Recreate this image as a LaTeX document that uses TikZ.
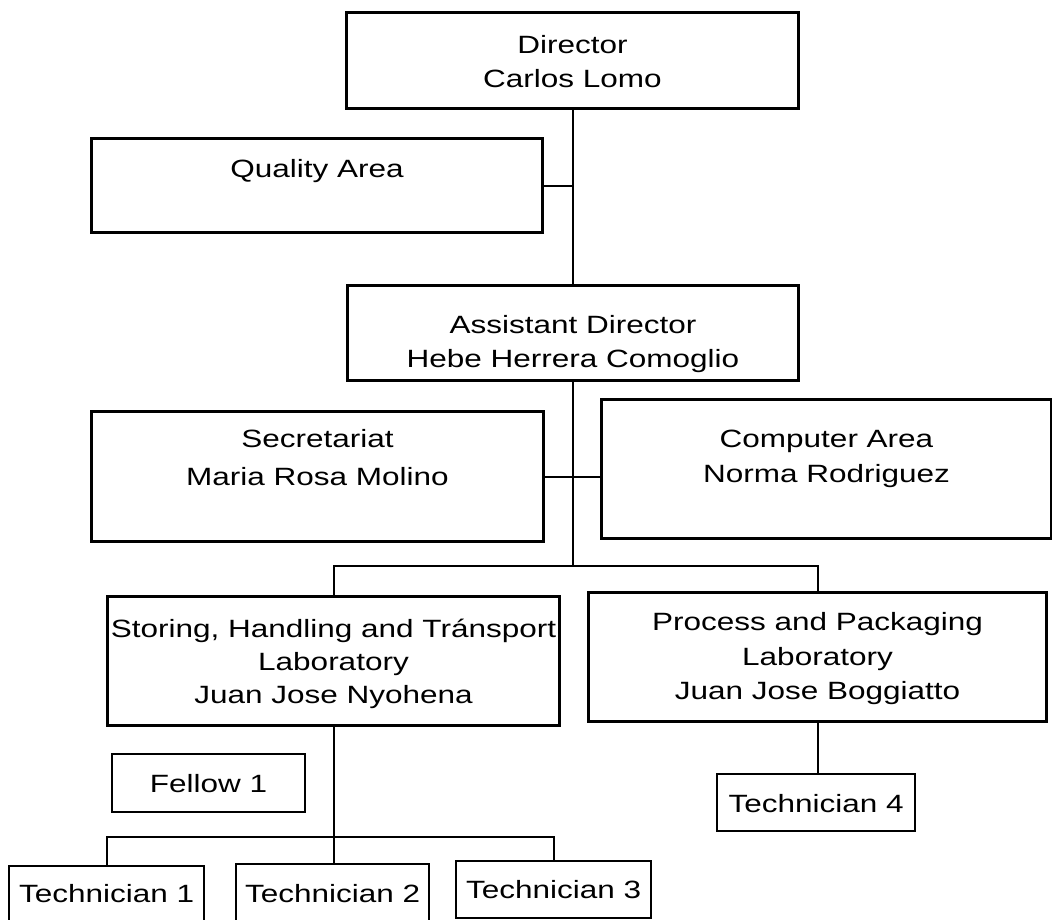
\documentclass[tikz,border=0pt]{standalone}
\usepackage{fontspec}
\setmainfont{Liberation Sans}[FakeStretch=1.26]
\tikzset{
  x=1pt, y=1pt,
  box/.style={draw, line width=3pt, inner sep=0pt, anchor=north west, align=center,
    font=\fontsize{25}{34}\selectfont},
  smallbox/.style={box, line width=2.2pt},
  conn/.style={line width=2pt},
}
\begin{document}
\begin{tikzpicture}
\useasboundingbox (0,0) rectangle (1052,-919);
% boxes
\node[box, minimum width=452pt, text height=75pt, text depth=21pt] (dir) at (345,-11) {Director\\Carlos Lomo};
\node[box, minimum width=451pt, text height=39pt, text depth=55pt] (qa) at (90,-137) {Quality Area};
\node[box, minimum width=451pt, text height=82pt, text depth=13pt] (ad) at (346,-284) {Assistant Director\\Hebe Herrera Comoglio};
\node[box, minimum width=452pt, text height=74pt, text depth=56pt, font=\fontsize{25}{38}\selectfont] (sec) at (90,-410) {Secretariat\\Maria Rosa Molino};
\node[box, minimum width=450pt, text height=83pt, text depth=56pt, font=\fontsize{25}{35}\selectfont] (comp) at (600,-398) {Computer Area\\Norma Rodriguez};
\node[box, minimum width=452pt, text height=107pt, text depth=22pt, font=\fontsize{25}{33}\selectfont] (shl) at (106,-595) {Storing, Handling and Tránsport\\Laboratory\\Juan Jose Nyohena};
\node[box, minimum width=458pt, text height=107pt, text depth=22pt, font=\fontsize{25}{34.5}\selectfont] (ppl) at (587,-591) {Process and Packaging\\Laboratory\\Juan Jose Boggiatto};
\node[smallbox, minimum width=193pt, text height=38pt, text depth=20pt] (fel) at (111,-753) {Fellow 1};
\node[smallbox, minimum width=198pt, text height=38pt, text depth=19pt] (t4) at (716,-773) {Technician 4};
\node[smallbox, minimum width=195pt, text height=36pt, text depth=20pt] (t1) at (8,-865) {Technician 1};
\node[smallbox, minimum width=193pt, text height=38pt, text depth=20pt] (t2) at (235,-863) {Technician 2};
\node[smallbox, minimum width=195pt, text height=37pt, text depth=20pt] (t3) at (455,-860) {Technician 3};
% connector points
\coordinate (bus) at (569,-566);
\coordinate (tbus) at (332,-837);
% connectors
\draw[conn] (dir.south) -- (dir.south |- ad.north);
\draw[conn] (qa.east) -- (qa.east -| dir.south);
\draw[conn] (ad.south) -- (ad.south |- bus);
\draw[conn] (sec.east) -- (comp.west |- sec.east);
\draw[conn] (shl.north) |- (bus) -| (ppl.north);
\draw[conn] (shl.south) -- (shl.south |- t2.north);
\draw[conn] (t1.north) |- (tbus) -| (t3.north);
\draw[conn] (ppl.south) -- (ppl.south |- t4.north);
\end{tikzpicture}
\end{document}
